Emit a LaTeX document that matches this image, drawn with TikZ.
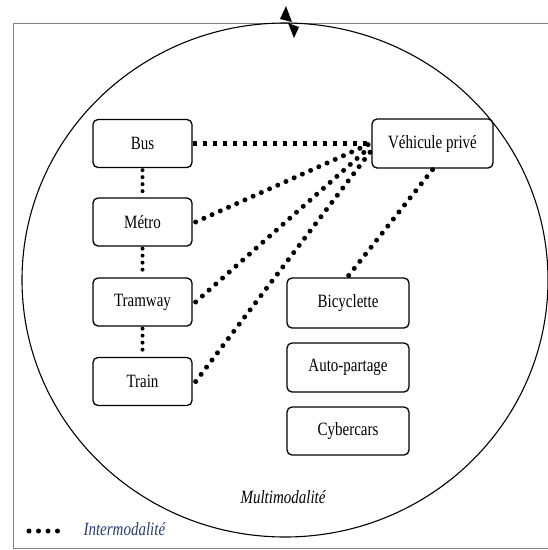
\documentclass[tikz,border=0pt]{standalone}
\usepackage{fontspec}
\setmainfont{Liberation Serif}
\usetikzlibrary{calc}
\definecolor{legblue}{RGB}{40,60,110}
\definecolor{framegray}{RGB}{130,130,130}
\newcommand{\tallbox}[1]{\scalebox{1}[1.25]{#1}}
\begin{document}
\begin{tikzpicture}[x=1pt,y=-1pt,
  modebox/.style={draw, line width=1.3pt, rounded corners=5pt, minimum height=48pt, font=\fontsize{15}{17}\selectfont, inner sep=0pt},
  leftbox/.style={modebox, minimum width=99pt},
  rightbox/.style={modebox, minimum width=122pt},
  sqdots/.style={line width=5pt, dash pattern=on 4.5pt off 5.5pt},
  rddots/.style={line width=5pt, line cap=round, dash pattern=on 0pt off 9pt},
  vdots/.style={line width=4pt, line cap=round, dash pattern=on 0pt off 7pt}]
\useasboundingbox (0,0) rectangle (548,550);
% frame
\draw[framegray, line width=1pt] (548,23) -- (13,23) -- (13,548) -- (548,548);
% ellipse
\draw[line width=1.1pt] (285,280) ellipse [x radius=263, y radius=257];
% bow-tie mark at top
\fill (286,6) -- (280,19) -- (292,22) -- cycle;
\fill (288,23) -- (299,27) -- (294,38) -- cycle;
% nodes
\node[leftbox] (bus) at (142.5,143.5) {\tallbox{Bus}};
\node[leftbox] (metro) at (142.5,222) {\tallbox{Métro}};
\node[leftbox] (tram) at (142.5,302) {\tallbox{Tramway}};
\node[leftbox] (train) at (142.5,381.5) {\tallbox{Train}};
\node[rightbox, minimum width=121pt, minimum height=49pt] (veh) at (432.5,143.5) {\tallbox{Véhicule privé}};
\node[rightbox, minimum height=50pt] (bic) at (348,303) {\tallbox{Bicyclette}};
\node[rightbox, minimum height=49pt] (auto) at (348,367.5) {\tallbox{Auto-partage}};
\node[rightbox] (cyb) at (348,431) {\tallbox{Cybercars}};
% connectors
\draw[vdots] ([yshift=-2pt]bus.south) -- ([yshift=2pt]metro.north);
\draw[vdots] ([yshift=-2pt]metro.south) -- ([yshift=2pt]tram.north);
\draw[vdots] ([yshift=-2pt]tram.south) -- ([yshift=2pt]train.north);
\draw[sqdots] (bus.east) -- (veh.west);
\draw[rddots] ([xshift=3pt]metro.east) -- ([yshift=-1pt,xshift=-3pt]veh.west);
\draw[rddots] ([xshift=3pt]tram.east) -- ([yshift=-4pt,xshift=-2pt]veh.west);
\draw[rddots] ([xshift=3pt]train.east) -- ([yshift=-7pt]veh.west);
\draw[rddots] ([yshift=-1pt]veh.south) -- ([yshift=1pt]bic.north);
% labels
\node[font=\fontsize{15}{17}\selectfont\itshape] (multi) at (283,497) {\tallbox{Multimodalité}};
\coordinate (lega) at (29,531);
\coordinate (legb) at (63,531);
\draw[rddots, line width=5pt, dash pattern=on 0pt off 9.5pt] (lega) -- (legb);
\node[font=\fontsize{15}{17}\selectfont\itshape, text=legblue, anchor=west] (inter) at (80,529) {\tallbox{Intermodalité}};
\end{tikzpicture}
\end{document}
